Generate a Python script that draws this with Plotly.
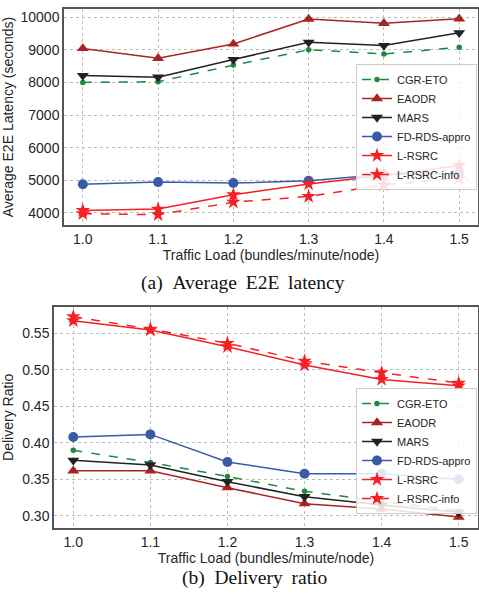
import plotly.graph_objects as go

loads = [1.0, 1.1, 1.2, 1.3, 1.4, 1.5]
x_ticks = [1.0, 1.1, 1.2, 1.3, 1.4, 1.5]
x_tick_labels = ["1.0", "1.1", "1.2", "1.3", "1.4", "1.5"]

series_names = ["CGR-ETO", "EAODR", "MARS", "FD-RDS-appro", "L-RSRC", "L-RSRC-info"]

# (a) Average E2E latency (seconds)
lat_cgr_eto = [8000, 8020, 8530, 9000, 8870, 9080]
lat_eaodr = [9040, 8740, 9180, 9940, 9810, 9950]
lat_mars = [8210, 8160, 8700, 9230, 9130, 9520]
lat_fd_rds = [4880, 4945, 4915, 4985, 5180, 5210]
lat_l_rsrc = [4076, 4118, 4557, 4884, 5150, 5455]
lat_l_rsrc_info = [3976, 3945, 4330, 4505, 4862, 5066]
lat_yticks = [4000, 5000, 6000, 7000, 8000, 9000, 10000]
lat_ytick_labels = ["4000", "5000", "6000", "7000", "8000", "9000", "10000"]

# (b) Delivery ratio
dr_cgr_eto = [0.3895, 0.373, 0.3538, 0.3333, 0.3195, 0.3067]
dr_eaodr = [0.3614, 0.3614, 0.3383, 0.3163, 0.309, 0.298]
dr_mars = [0.3758, 0.3694, 0.3465, 0.3259, 0.3146, 0.3045]
dr_fd_rds = [0.4078, 0.4114, 0.3735, 0.3574, 0.3574, 0.3497]
dr_l_rsrc = [0.5673, 0.5546, 0.5317, 0.5065, 0.4868, 0.478]
dr_l_rsrc_info = [0.5728, 0.5559, 0.5363, 0.512, 0.496, 0.4818]
dr_yticks = [0.30, 0.35, 0.40, 0.45, 0.50, 0.55]
dr_ytick_labels = ["0.30", "0.35", "0.40", "0.45", "0.50", "0.55"]

captions = ["(a)\u2002Average\u2009 E2E\u2009 latency", "(b)\u2002Delivery\u2009 ratio"]

styles = [
    dict(color="#1b8a3e", dash="dash", symbol="circle", size=5.5),
    dict(color="#a82424", dash="solid", symbol="triangle-up", size=10.5),
    dict(color="#222222", dash="solid", symbol="triangle-down", size=10.5),
    dict(color="#3a5aa8", dash="solid", symbol="circle", size=10),
    dict(color="#f52025", dash="solid", symbol="star", size=11),
    dict(color="#f52025", dash="dash", symbol="star", size=11),
]

fig = go.Figure()

lat_data = [lat_cgr_eto, lat_eaodr, lat_mars, lat_fd_rds, lat_l_rsrc, lat_l_rsrc_info]
dr_data = [dr_cgr_eto, dr_eaodr, dr_mars, dr_fd_rds, dr_l_rsrc, dr_l_rsrc_info]

for name, vals, st in zip(series_names, lat_data, styles):
    fig.add_trace(go.Scatter(
        x=loads, y=vals, name=name, mode="lines+markers",
        line=dict(color=st["color"], dash=st["dash"], width=1.5),
        marker=dict(symbol=st["symbol"], size=st["size"], color=st["color"]),
        xaxis="x", yaxis="y", legend="legend"))

for name, vals, st in zip(series_names, dr_data, styles):
    fig.add_trace(go.Scatter(
        x=loads, y=vals, name=name, mode="lines+markers",
        line=dict(color=st["color"], dash=st["dash"], width=1.5),
        marker=dict(symbol=st["symbol"], size=st["size"], color=st["color"]),
        xaxis="x2", yaxis="y2", legend="legend2"))

tickfont = dict(family="Liberation Sans, Arial, sans-serif", size=14, color="#262626")
titlefont = dict(family="Liberation Sans, Arial, sans-serif", size=14, color="#262626")
common_axis = dict(
    showgrid=True, gridcolor="#bcbcbc", griddash="dot", gridwidth=1,
    showline=True, linecolor="#555555", linewidth=1.5, mirror=True,
    zeroline=False, ticks="", tickfont=tickfont, automargin=False,
)

legend_style = dict(
    bgcolor="rgba(255,255,255,0.85)", bordercolor="#cccccc", borderwidth=1,
    font=dict(family="Liberation Sans, Arial, sans-serif", size=11, color="#262626"),
    xanchor="right", yanchor="top", itemwidth=30, tracegroupgap=0,
)

fig.update_layout(
    width=479, height=595,
    margin=dict(l=0, r=0, t=0, b=0),
    paper_bgcolor="white", plot_bgcolor="white",
    xaxis=dict(domain=[64/479, 478/479], anchor="y", range=[0.975, 1.525],
               tickvals=x_ticks, ticktext=x_tick_labels,
               title=dict(text="Traffic Load (bundles/minute/node)", font=titlefont, standoff=0),
               **common_axis),
    yaxis=dict(domain=[1-225/595, 1-9/595], anchor="x", range=[3630, 10250],
               tickvals=lat_yticks, ticktext=lat_ytick_labels,
               title=dict(text="Average E2E Latency (seconds)", font=titlefont, standoff=4),
               **common_axis),
    xaxis2=dict(domain=[54/479, 478/479], anchor="y2", range=[0.975, 1.525],
                tickvals=x_ticks, ticktext=x_tick_labels,
                title=dict(text="Traffic Load (bundles/minute/node)", font=titlefont, standoff=0),
                **common_axis),
    yaxis2=dict(domain=[1-528/595, 1-306.7/595], anchor="x2", range=[0.283, 0.5865],
                tickvals=dr_yticks, ticktext=dr_ytick_labels,
                title=dict(text="Delivery Ratio", font=titlefont, standoff=8),
                **common_axis),
    legend=dict(x=477/479, y=1-64/595, **legend_style),
    legend2=dict(x=477/479, y=1-388/595, **legend_style),
)

cap_font = dict(family="Liberation Serif, Times New Roman, serif", size=19.5, color="#111111")
fig.add_annotation(text=captions[0], xref="paper", yref="paper", x=243/479, y=1-283/595,
                   showarrow=False, font=cap_font, xanchor="center", yanchor="middle")
fig.add_annotation(text=captions[1], xref="paper", yref="paper", x=255/479, y=1-578/595,
                   showarrow=False, font=cap_font, xanchor="center", yanchor="middle")

fig.write_html("out.html", config={"displayModeBar": False},
               post_script="document.body.style.margin='0';document.body.style.overflow='hidden';")
